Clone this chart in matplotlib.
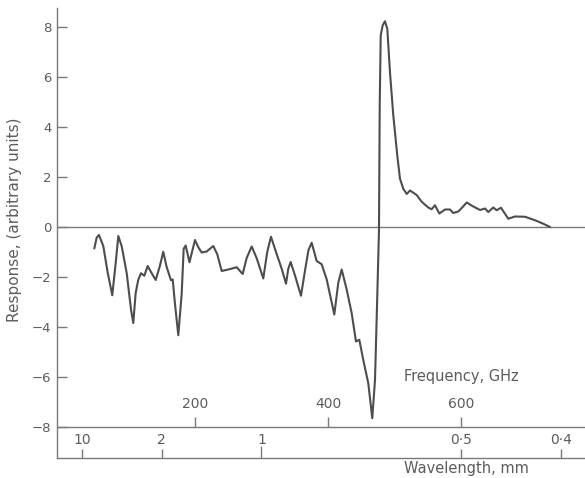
import matplotlib
matplotlib.use("Agg")
import matplotlib.pyplot as plt

plt.rcParams["font.family"] = ["DejaVu Sans"]

# response curve (frequency in GHz, response in arbitrary units)
freq_ghz = [
    48.6, 52.2, 55.6, 62.1, 68.7, 75.6, 80.8, 84.7, 89.8, 97.3,
    103.8, 107.2, 110.8, 114.7, 118.8, 123.8, 128.9, 134.9, 140.9, 146.9,
    152.3, 157.4, 163.9, 166.5, 169.9, 174.9, 180.0, 183.0, 186.0, 191.7,
    200.0, 205.0, 210.1, 217.6, 227.5, 233.5, 240.2, 250.1, 262.7, 271.7,
    277.7, 285.3, 292.8, 302.7, 308.7, 314.3, 321.8, 330.4, 336.9, 340.3,
    343.9, 350.4, 359.4, 365.4, 370.6, 375.5, 383.0, 390.5, 398.1, 409.5,
    415.5, 420.6, 428.1, 435.6, 442.1, 447.1, 453.1, 460.6, 466.6, 470.7,
    474.1, 476.7, 477.8, 479.3, 482.3, 485.7, 489.2, 493.2, 498.2, 504.2,
    508.3, 513.2, 518.4, 523.3, 533.4, 540.9, 550.8, 555.9, 560.9, 567.4,
    576.0, 583.5, 588.4, 596.0, 601.1, 608.6, 618.5, 628.6, 636.1, 641.1,
    648.6, 653.7, 660.2, 666.2, 671.1, 681.2, 696.3, 711.3, 723.8, 733.9,
]
response = [
    -0.86, -0.42, -0.32, -0.76, -1.82, -2.73, -1.43, -0.36, -0.77, -1.84,
    -3.30, -3.84, -2.64, -2.11, -1.85, -1.95, -1.56, -1.85, -2.12, -1.59,
    -0.99, -1.60, -2.13, -2.10, -3.07, -4.33, -2.67, -0.87, -0.74, -1.41,
    -0.52, -0.81, -1.02, -0.98, -0.76, -1.09, -1.76, -1.70, -1.61, -1.88,
    -1.24, -0.78, -1.25, -2.06, -0.99, -0.39, -1.00, -1.67, -2.27, -1.67,
    -1.40, -1.94, -2.75, -1.75, -0.93, -0.63, -1.36, -1.49, -2.10, -3.50,
    -2.23, -1.70, -2.50, -3.44, -4.58, -4.51, -5.32, -6.25, -7.65, -6.12,
    -2.79, -0.13, 4.87, 7.67, 8.07, 8.23, 7.93, 6.20, 4.47, 2.86,
    1.93, 1.53, 1.32, 1.46, 1.28, 1.01, 0.78, 0.71, 0.87, 0.54,
    0.70, 0.70, 0.56, 0.62, 0.76, 0.98, 0.82, 0.68, 0.74, 0.60,
    0.78, 0.67, 0.77, 0.53, 0.33, 0.42, 0.41, 0.27, 0.13, 0.0,
]

y_ticks = [-8, -6, -4, -2, 0, 2, 4, 6, 8]
freq_ticks = [200, 400, 600]
wavelength_ticks = [10, 2, 1, 0.5, 0.4]
wavelength_labels = ["10", "2", "1", "0·5", "0·4"]

AXIS_GREY = "#7a7a7a"
TEXT_GREY = "#5c5c5c"
LINE_GREY = "#4d4d4d"

Y_BOTTOM = -9.24
Y_TOP = 8.76
X_MIN, X_MAX = -7.5, 786.5

fig = plt.figure(figsize=(5.85, 4.78), dpi=100)
ax = fig.add_axes([57 / 585, 20 / 478, 528 / 585, 450 / 478])
ax.set_xlim(X_MIN, X_MAX)
ax.set_ylim(Y_BOTTOM, Y_TOP)

for side in ("top", "right"):
    ax.spines[side].set_visible(False)
for side in ("left", "bottom"):
    ax.spines[side].set_color(AXIS_GREY)
    ax.spines[side].set_linewidth(1.0)

ax.set_xticks([])
ax.set_yticks(y_ticks)
ax.tick_params(axis="y", direction="in", length=7, width=1.0, color=AXIS_GREY,
               labelcolor=TEXT_GREY, labelsize=9.5, pad=4)

# zero line and frequency scale line
ax.axhline(0, color=AXIS_GREY, linewidth=1.0)
ax.axhline(-8, color=AXIS_GREY, linewidth=1.0)

ax.plot(freq_ghz, response, color=LINE_GREY, linewidth=1.5,
        solid_joinstyle="round", solid_capstyle="round")

# frequency scale (linear), ticks point up from the -8 line
ax.vlines(freq_ticks, -8, -8 + 0.4, color=AXIS_GREY, linewidth=1.0)
for f in freq_ticks:
    ax.text(f, -7.1, str(f), ha="center", va="center", fontsize=10, color=TEXT_GREY)
ax.text(515, -5.96, "Frequency, GHz", ha="left", va="center", fontsize=10.5, color=TEXT_GREY)

# wavelength scale, placed at c / lambda
for wl, lab in zip(wavelength_ticks, wavelength_labels):
    f = 300.0 / wl
    tick_len = 0.5 if wl == 1 else 0.36
    ax.vlines(f, Y_BOTTOM, Y_BOTTOM + tick_len, color=AXIS_GREY, linewidth=1.0)
    ax.text(f, -8.5, lab, ha="center", va="center", fontsize=10, color=TEXT_GREY)
ax.text(515, -9.68, "Wavelength, mm", ha="left", va="center", fontsize=10.5,
        color=TEXT_GREY, clip_on=False)

fig.text(15 / 585, (478 - 220) / 478, "Response, (arbitrary units)", rotation=90,
         ha="center", va="center", fontsize=11, color=TEXT_GREY)

fig.savefig("out.png", dpi=100)
